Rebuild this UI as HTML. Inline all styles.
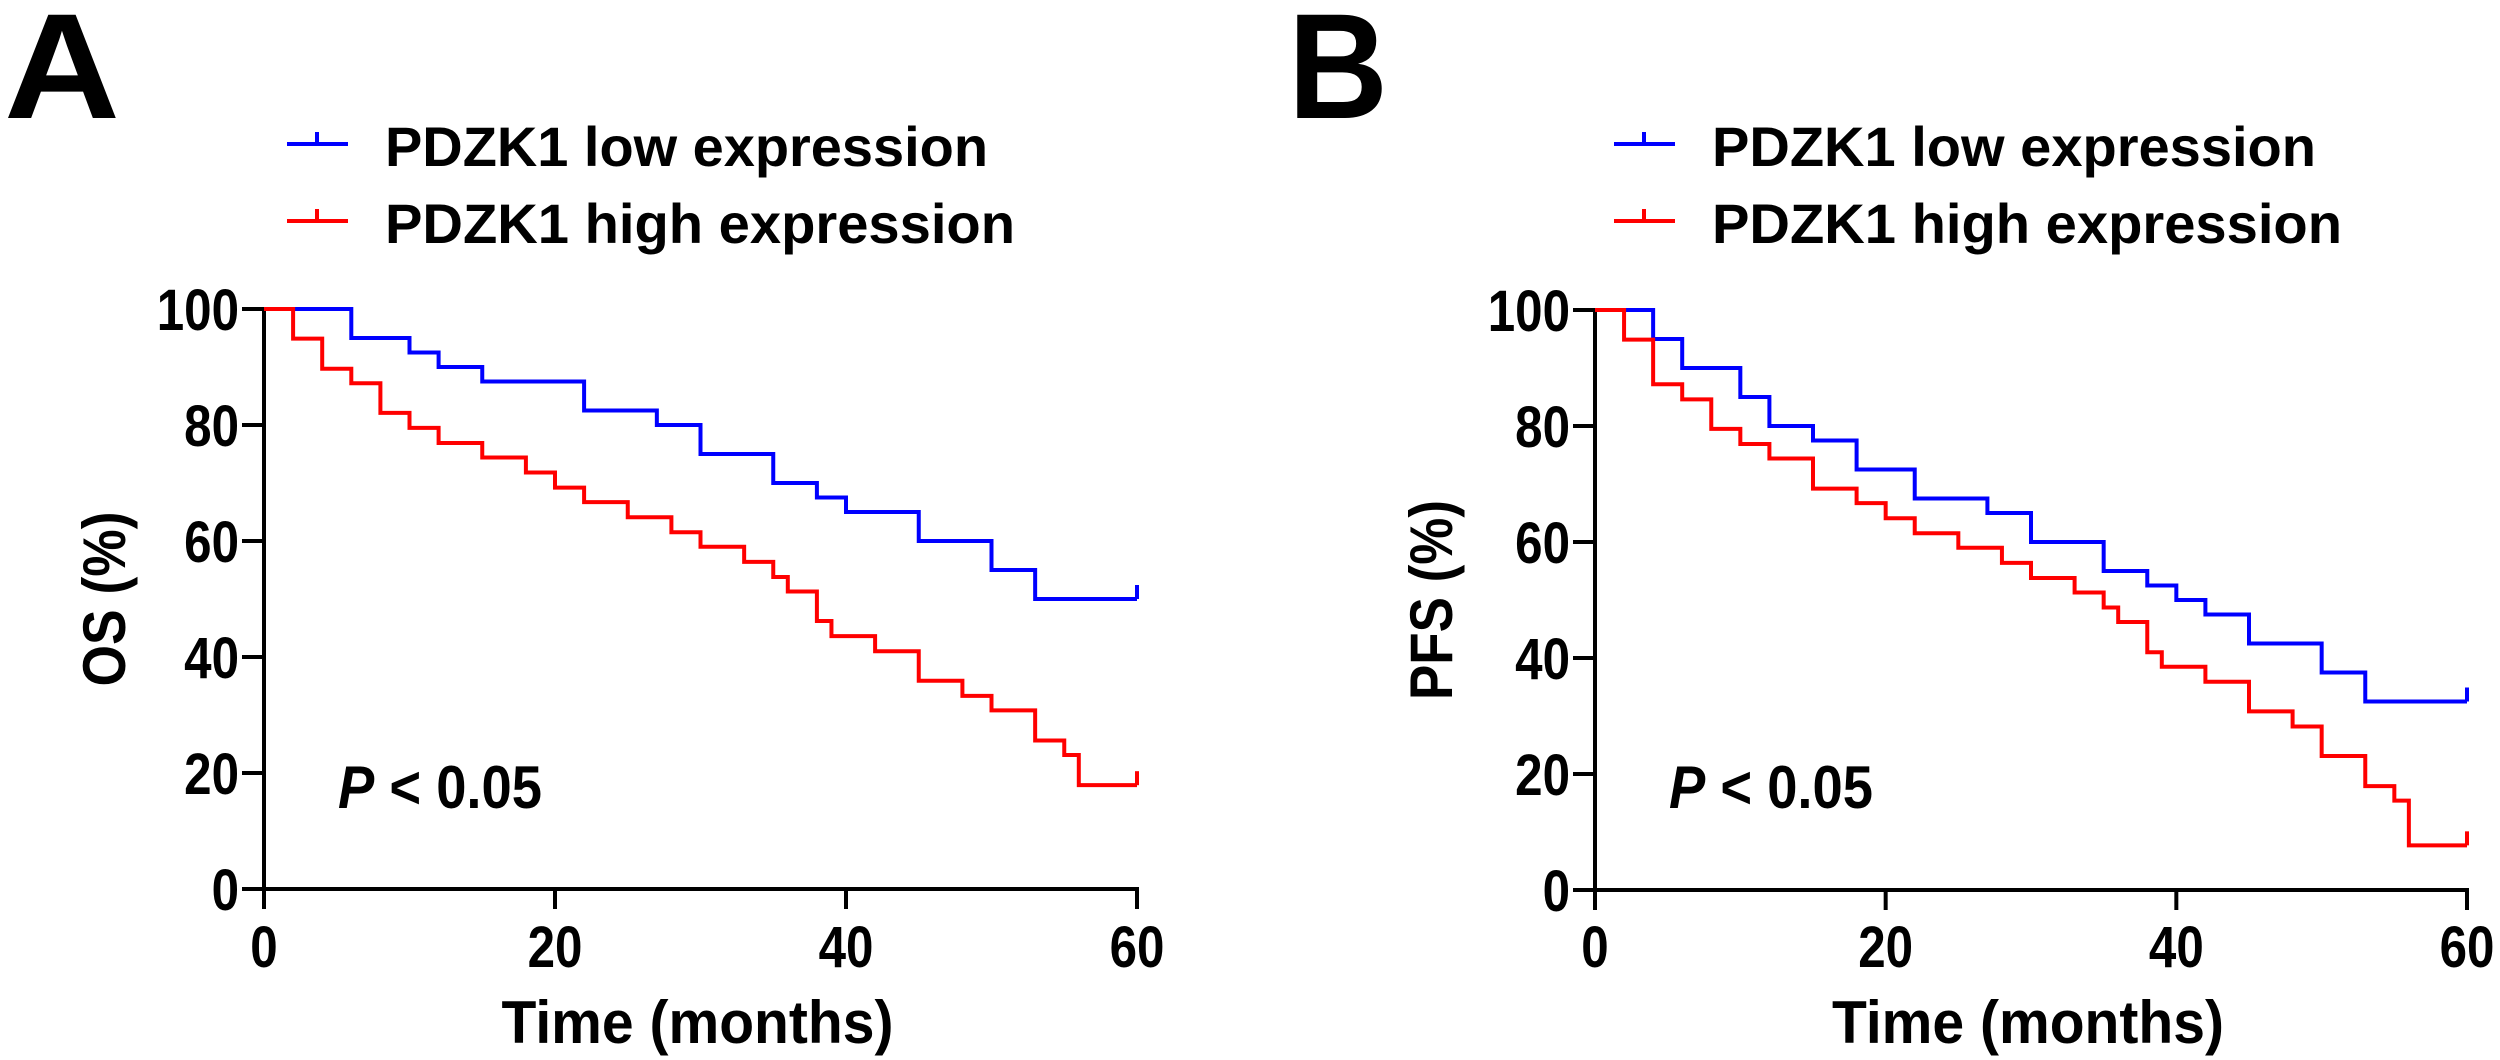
<!DOCTYPE html>
<html><head><meta charset="utf-8"><style>
html,body{margin:0;padding:0;background:#fff}
svg{display:block}
text{font-family:"Liberation Sans",Arial,sans-serif;font-weight:bold;fill:#000}
</style></head><body>
<svg id="fig" width="2500" height="1060" viewBox="0 0 2500 1060" xmlns="http://www.w3.org/2000/svg"></svg>
<script>
// ---- data ----
const xTicks = [0, 20, 40, 60];
const yTicks = [0, 20, 40, 60, 80, 100];
const osLowTimes  = [0, 6, 10, 12, 15, 22, 27, 30, 35, 38, 40, 45, 50, 53];
const osLowVals   = [100, 95, 92.5, 90, 87.5, 82.5, 80, 75, 70, 67.5, 65, 60, 55, 50];
const osHighTimes = [0, 2, 4, 6, 8, 10, 12, 15, 18, 20, 22, 25, 28, 30, 33, 35, 36, 38, 39, 42, 45, 48, 50, 53, 55, 56];
const osHighVals  = [100, 94.9, 89.7, 87.2, 82.1, 79.5, 76.9, 74.4, 71.8, 69.2, 66.7, 64.1, 61.5, 59.0, 56.4, 53.8, 51.3, 46.2, 43.6, 41.0, 35.9, 33.3, 30.8, 25.6, 23.1, 17.9];
const pfsLowTimes  = [0, 4, 6, 10, 12, 15, 18, 22, 27, 30, 35, 38, 40, 42, 45, 50, 53];
const pfsLowVals   = [100, 95, 90, 85, 80, 77.5, 72.5, 67.5, 65, 60, 55, 52.5, 50, 47.5, 42.5, 37.5, 32.5];
const pfsHighTimes = [0, 2, 4, 6, 8, 10, 12, 15, 18, 20, 22, 25, 28, 30, 33, 35, 36, 38, 39, 42, 45, 48, 50, 53, 55, 56];
const pfsHighVals  = [100, 94.9, 87.2, 84.6, 79.5, 76.9, 74.4, 69.2, 66.7, 64.1, 61.5, 59.0, 56.4, 53.8, 51.3, 48.7, 46.2, 41.0, 38.5, 35.9, 30.8, 28.2, 23.1, 17.9, 15.4, 7.7];
const endTime = 60;

const NS = "http://www.w3.org/2000/svg";
const svg = document.getElementById('fig');
function mk(tag, attrs, parent){
  const e = document.createElementNS(NS, tag);
  for (const k in attrs) e.setAttribute(k, attrs[k]);
  (parent||svg).appendChild(e);
  return e;
}

function panel(cfg){
  const g = mk('g', {});
  
  
  const X = t => cfg.x0 + (t/60)*(cfg.x1 - cfg.x0);
  const Y = v => cfg.y0 - (v/100)*(cfg.y0 - cfg.y100);

  // panel letter
  const L = mk('text', {x: cfg.letterX, y: 118, 'font-size': 150, textLength: cfg.letterW, lengthAdjust: 'spacingAndGlyphs'}, g);
  L.textContent = cfg.letter;
  
  

  // legend
  const leg = [
    {label: 'PDZK1 low expression', color: '#0000ff', y: 144, w: cfg.legW1},
    {label: 'PDZK1 high expression', color: '#ff0000', y: 221, w: cfg.legW2}
  ];
  leg.forEach((l, i) => {
    const lg = mk('g', {}, g);
    
    
    mk('line', {x1: cfg.legX, x2: cfg.legX + 61, y1: l.y, y2: l.y, stroke: l.color, 'stroke-width': 4}, lg);
    mk('line', {x1: cfg.legX + 30, x2: cfg.legX + 30, y1: l.y, y2: l.y - 12, stroke: l.color, 'stroke-width': 4}, lg);
    const t = mk('text', {x: cfg.legTX, y: l.y + 22, 'font-size': 56, textLength: l.w, lengthAdjust: 'spacingAndGlyphs'}, lg);
    t.textContent = l.label;
  });

  // axes
  const ya = mk('line', {x1: cfg.x0, x2: cfg.x0, y1: cfg.y100 - 2, y2: cfg.y0 + 2, stroke: '#000', 'stroke-width': 4}, g);
  
  
  const xa = mk('line', {x1: cfg.x0 - 22, x2: cfg.x1 + 2, y1: cfg.y0, y2: cfg.y0, stroke: '#000', 'stroke-width': 4}, g);
  
  

  yTicks.forEach(v => {
    mk('line', {x1: cfg.x0 - 22, x2: cfg.x0, y1: Y(v), y2: Y(v), stroke: '#000', 'stroke-width': 4}, g);
    const t = mk('text', {x: cfg.x0 - 25, y: Y(v) + 21, 'font-size': 58, 'text-anchor': 'end', transform: `translate(${cfg.x0-25},0) scale(0.85,1) translate(${-(cfg.x0-25)},0)`}, g);
    t.textContent = v;
    
    
  });
  xTicks.forEach(v => {
    mk('line', {x1: X(v), x2: X(v), y1: cfg.y0, y2: cfg.y0 + 20, stroke: '#000', 'stroke-width': 4}, g);
    const t = mk('text', {x: X(v), y: 967, 'font-size': 58, 'text-anchor': 'middle', transform: `translate(${X(v)},0) scale(0.85,1) translate(${-X(v)},0)`}, g);
    t.textContent = v;
    
    
  });

  // axis titles
  const xt = mk('text', {x: (cfg.x0 + cfg.x1)/2 - 3, y: 1043, 'font-size': 60, 'text-anchor': 'middle', textLength: 392, lengthAdjust: 'spacingAndGlyphs'}, g);
  xt.textContent = 'Time (months)';
  
  
  const cy = (cfg.y0 + cfg.y100)/2;
  const yt = mk('text', {x: 0, y: 0, 'font-size': 60, 'text-anchor': 'middle', textLength: cfg.yTitleW, lengthAdjust: 'spacingAndGlyphs', transform: `translate(${cfg.yTitleX},${cy}) rotate(-90)`}, g);
  yt.textContent = cfg.yTitle;
  
  

  // p-value
  const p = mk('text', {x: cfg.x0 + 74, y: 808, 'font-size': 60, textLength: 204, lengthAdjust: 'spacingAndGlyphs'}, g);
  const pi = mk('tspan', {'font-style': 'italic'}, p); pi.textContent = 'P';
  const pr = mk('tspan', {}, p); pr.textContent = ' < 0.05';
  
  

  // curves
  function curve(times, vals, color, name){
    let d = `M${X(times[0])},${Y(vals[0])}`;
    for (let i = 1; i < times.length; i++){
      d += ` H${X(times[i])} V${Y(vals[i])}`;
    }
    d += ` H${X(endTime)}`;
    const path = mk('path', {d: d, fill: 'none', stroke: color, 'stroke-width': 4, 'stroke-linejoin': 'miter'}, g);
    
    
    const last = vals[vals.length-1];
    const c = mk('line', {x1: X(endTime), x2: X(endTime), y1: Y(last), y2: Y(last) - 14, stroke: color, 'stroke-width': 4}, g);
    
    
  }
  curve(cfg.lowT, cfg.lowV, '#0000ff', 'low-expression-curve');
  curve(cfg.highT, cfg.highV, '#ff0000', 'high-expression-curve');
}

panel({name: 'panel-a-os', letter: 'A', letterX: 4, letterW: 116,
  x0: 264, x1: 1137, y100: 309, y0: 889,
  legX: 287, legTX: 385, legW1: 603, legW2: 630,
  yTitle: 'OS (%)', yTitleX: 125, yTitleW: 175,
  lowT: osLowTimes, lowV: osLowVals, highT: osHighTimes, highV: osHighVals});
panel({name: 'panel-b-pfs', letter: 'B', letterX: 1288, letterW: 100,
  x0: 1595, x1: 2467, y100: 310, y0: 890,
  legX: 1614, legTX: 1712, legW1: 604, legW2: 630,
  yTitle: 'PFS (%)', yTitleX: 1452, yTitleW: 200,
  lowT: pfsLowTimes, lowV: pfsLowVals, highT: pfsHighTimes, highV: pfsHighVals});
</script>
</body></html>
